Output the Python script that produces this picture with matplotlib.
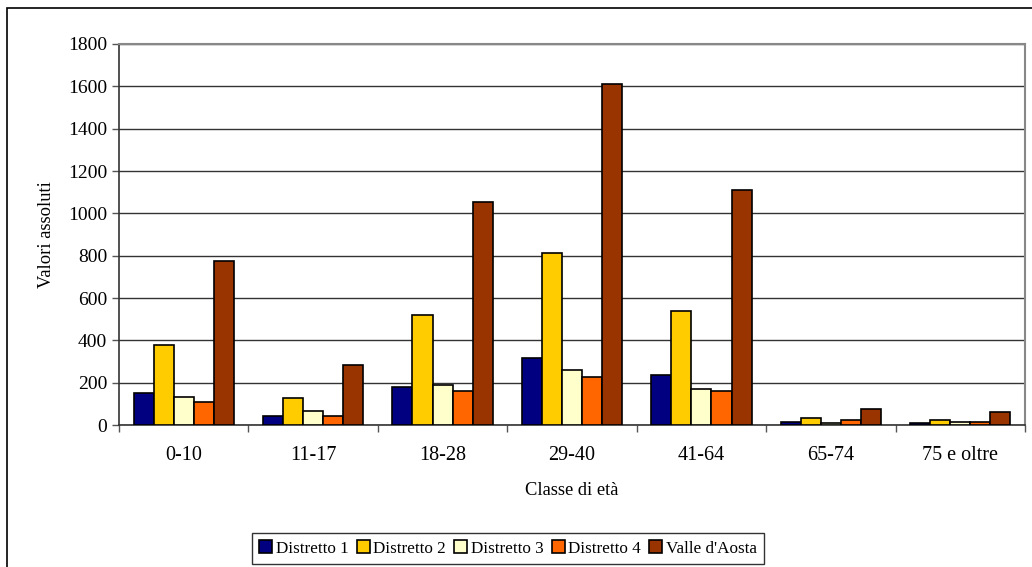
import numpy as np
import matplotlib.pyplot as plt
from matplotlib.patches import Rectangle

plt.rcParams['font.family'] = ['Liberation Serif', 'DejaVu Serif']

# --- data ---
categories = ['0-10', '11-17', '18-28', '29-40', '41-64', '65-74', '75 e oltre']
series_names = ['Distretto 1', 'Distretto 2', 'Distretto 3', 'Distretto 4', "Valle d'Aosta"]
distretto_1 = [150, 42, 180, 315, 235, 14, 8]
distretto_2 = [378, 128, 520, 812, 538, 35, 25]
distretto_3 = [131, 68, 190, 258, 169, 8, 13]
distretto_4 = [110, 44, 160, 225, 160, 22, 13]
valle_aosta = [775, 285, 1053, 1611, 1110, 76, 60]
colors = ['#000080', '#FFCC00', '#FFFFCC', '#FF6600', '#993300']

all_series = [distretto_1, distretto_2, distretto_3, distretto_4, valle_aosta]

fig = plt.figure(figsize=(10.32, 5.67), dpi=100)
ax = fig.add_axes([0.1153, 0.2504, 0.9932 - 0.1153, 0.9224 - 0.2504])

# outer chart frame (cut by the image edge on right/bottom)
fig.patches.append(Rectangle((7 / 1032, -0.05), 1.2, 1 - 8 / 567 + 0.05,
                             transform=fig.transFigure, fill=False,
                             edgecolor='black', linewidth=1.2, zorder=0))

x = np.arange(len(categories))
bw = 0.155
for i, (vals, name, c) in enumerate(zip(all_series, series_names, colors)):
    offs = (i - 2) * bw
    ax.bar(x + offs, vals, width=bw, color=c, edgecolor='black',
           linewidth=1.2, label=name, zorder=3)

ax.set_xlim(-0.5, len(categories) - 0.5)
ax.set_ylim(0, 1800)
ax.set_yticks(np.arange(0, 1801, 200))
ax.yaxis.grid(True, color='#333333', linewidth=1.0, zorder=0)
ax.set_axisbelow(True)

# category boundary ticks, labels at centres
ax.set_xticks(np.arange(-0.5, len(categories), 1.0))
ax.set_xticklabels([])
ax.set_xticks(x, minor=True)
ax.set_xticklabels(categories, minor=True)
ax.tick_params(axis='x', which='minor', length=0, pad=15, labelsize=14.5)
ax.tick_params(axis='x', which='major', length=5, width=1, color='#555555')
ax.tick_params(axis='y', length=5, width=1, labelsize=14, color='#555555')

for s in ['left', 'bottom']:
    ax.spines[s].set_color('#333333')
    ax.spines[s].set_linewidth(1.2)
for s in ['top', 'right']:
    ax.spines[s].set_color('#888888')
    ax.spines[s].set_linewidth(1.5)

ax.set_ylabel('Valori assoluti', fontsize=13.3, labelpad=9)
ax.set_xlabel('Classe di età', fontsize=13.3, labelpad=12)

leg = fig.legend(loc='center', bbox_to_anchor=(508 / 1032, 1 - 548.5 / 567),
                 ncol=5, fontsize=12.3, frameon=True, fancybox=False,
                 edgecolor='black', handlelength=0.75, handleheight=0.75,
                 handletextpad=0.2, columnspacing=0.5, borderpad=0.45)
leg.get_frame().set_linewidth(1.0)

fig.savefig('out.png', dpi=100)
